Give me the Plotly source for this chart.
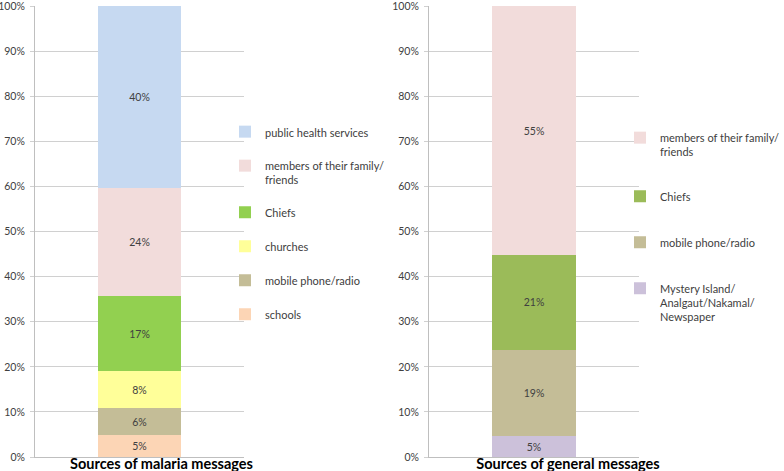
import plotly.graph_objects as go

# ---- data ----
malaria_category = ["Sources of malaria messages"]
malaria_sources = ["schools", "mobile phone/radio", "churches", "Chiefs",
                   "members of their family/<br>friends", "public health services"]
malaria_values = [4.8, 6.0, 8.2, 16.7, 23.9, 40.4]
malaria_colors = ["#FCD5B5", "#C4BD97", "#FFFF99", "#92D050", "#F2DCDB", "#C6D9F1"]

general_category = ["Sources of general messages"]
general_sources = ["Mystery Island/<br>Analgaut/Nakamal/<br>Newspaper", "mobile phone/radio",
                   "Chiefs", "members of their family/<br>friends"]
general_values = [4.6, 19.2, 21.0, 55.2]
general_colors = ["#CCC1DA", "#C4BD97", "#9BBB59", "#F2DCDB"]

ytick_vals = [0, 10, 20, 30, 40, 50, 60, 70, 80, 90, 100]
ytick_text = [f"{v}%" for v in ytick_vals]

FONT = "Lato"
TXT = "#404040"

fig = go.Figure()
for i, (name, val, col) in enumerate(zip(malaria_sources, malaria_values, malaria_colors)):
    fig.add_trace(go.Bar(
        x=malaria_category, y=[val], name=name, marker=dict(color=col, line=dict(width=0)),
        text=[f"{round(val)}%"], textposition="inside", insidetextanchor="middle",
        textfont=dict(family=FONT, size=10.5, color=TXT), width=0.4,
        xaxis="x", yaxis="y", legend="legend", legendgroup="m_" + name,
        legendrank=100 - i, hoverinfo="skip"))
for i, (name, val, col) in enumerate(zip(general_sources, general_values, general_colors)):
    fig.add_trace(go.Bar(
        x=general_category, y=[val], name=name, marker=dict(color=col, line=dict(width=0)),
        text=[f"{round(val)}%"], textposition="inside", insidetextanchor="middle",
        textfont=dict(family=FONT, size=10.5, color=TXT), width=0.4,
        xaxis="x2", yaxis="y2", legend="legend2", legendgroup="g_" + name,
        legendrank=100 - i, hoverinfo="skip"))

ydom = [14 / 471, 465 / 471]
yax = dict(range=[0, 100.05], tickvals=ytick_vals, ticktext=ytick_text, showgrid=True,
           gridcolor="#D0D0D0", gridwidth=1, zeroline=False, showline=True, linecolor="#BFBFBF",
           ticks="outside", ticklen=4, tickcolor="#D0D0D0", ticklabelstandoff=3,
           ticklabeloverflow="allow",
           tickfont=dict(family=FONT, size=10.5, color=TXT), automargin=False, domain=ydom)
xax = dict(showline=True, linecolor="#BFBFBF", showgrid=False, ticks="", automargin=False,
           tickfont=dict(family=FONT, size=14.5, color="black", weight="bold"),
           ticklabelstandoff=-6, ticklabeloverflow="allow")

fig.update_layout(
    width=784, height=471, margin=dict(l=0, r=0, t=0, b=0, autoexpand=False),
    paper_bgcolor="white", plot_bgcolor="white", barmode="stack",
    xaxis=dict(xax, domain=[35 / 784, 244 / 784], anchor="y", ticklabelshift=22),
    yaxis=dict(yax, anchor="x"),
    xaxis2=dict(xax, domain=[429 / 784, 639 / 784], anchor="y2", ticklabelshift=34),
    yaxis2=dict(yax, anchor="x2"),
    legend=dict(x=225 / 784, y=1 - 118 / 471, xanchor="left", yanchor="top",
                traceorder="grouped", tracegroupgap=15, valign="top",
                font=dict(family=FONT, size=11, color=TXT), itemwidth=30,
                bgcolor="rgba(0,0,0,0)"),
    legend2=dict(x=620 / 784, y=1 - 124 / 471, xanchor="left", yanchor="top",
                 traceorder="grouped", tracegroupgap=27, valign="top",
                 font=dict(family=FONT, size=11, color=TXT), itemwidth=30,
                 bgcolor="rgba(0,0,0,0)"),
)

fig.write_html("out.html", config={"displayModeBar": False},
               post_script="document.body.style.margin='0';")
